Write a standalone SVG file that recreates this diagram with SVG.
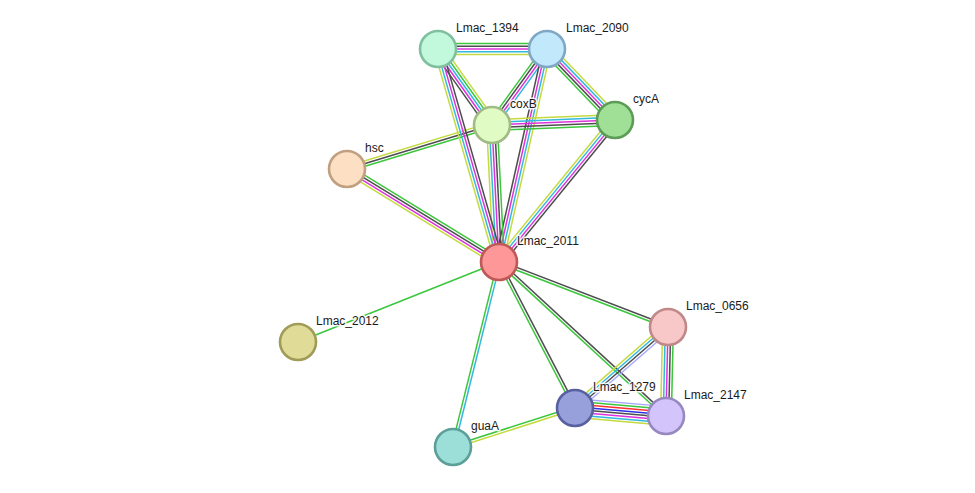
<svg xmlns="http://www.w3.org/2000/svg" width="975" height="493" viewBox="0 0 975 493">
<style>
line{stroke-width:1.34;fill:none}
.g{stroke:#3cc63c}.k{stroke:#4d4d4d}.m{stroke:#dc33dc}.c{stroke:#33b8e0}.y{stroke:#c5da3e}.l{stroke:#a8a8ff}.r{stroke:#ff3030}.b{stroke:#2e2ee8}
circle{stroke-width:2.6}
text{font-family:"Liberation Sans",Arial,sans-serif;font-size:12px;fill:#1a1a1a;stroke:#fff;stroke-width:3;stroke-opacity:0.85;paint-order:stroke;stroke-linejoin:round}
</style>
<rect width="975" height="493" fill="#fff"/>
<g id="connectors">
<g transform="translate(438,49) rotate(0) scale(1,1.12)"><line class="g" x1="0" y1="-4.8" x2="109" y2="-4.8"/><line class="k" x1="0" y1="-2.4" x2="109" y2="-2.4"/><line class="m" x1="0" y1="0" x2="109" y2="0"/><line class="c" x1="0" y1="2.4" x2="109" y2="2.4"/><line class="y" x1="0" y1="4.8" x2="109" y2="4.8"/></g>
<g transform="translate(438,49) rotate(54.6) scale(1,1.12)"><line class="y" x1="0" y1="-4.8" x2="93.2" y2="-4.8"/><line class="g" x1="0" y1="-2.4" x2="93.2" y2="-2.4"/><line class="c" x1="0" y1="0" x2="93.2" y2="0"/><line class="m" x1="0" y1="2.4" x2="93.2" y2="2.4"/><line class="k" x1="0" y1="4.8" x2="93.2" y2="4.8"/></g>
<g transform="translate(547,49) rotate(125.9) scale(1,1.12)"><line class="g" x1="0" y1="3.6" x2="93.8" y2="3.6"/><line class="k" x1="0" y1="1.2" x2="93.8" y2="1.2"/><line class="m" x1="0" y1="-1.2" x2="93.8" y2="-1.2"/><line class="c" x1="0" y1="-3.6" x2="93.8" y2="-3.6"/></g>
<g transform="translate(547,49) rotate(102.7) scale(1,1.12)"><line class="k" x1="0" y1="3.6" x2="218.3" y2="3.6"/><line class="m" x1="0" y1="1.2" x2="218.3" y2="1.2"/><line class="c" x1="0" y1="-1.2" x2="218.3" y2="-1.2"/><line class="y" x1="0" y1="-3.6" x2="218.3" y2="-3.6"/></g>
<g transform="translate(547,49) rotate(46.2) scale(1,1.12)"><line class="y" x1="0" y1="-4.8" x2="98.3" y2="-4.8"/><line class="c" x1="0" y1="-2.4" x2="98.3" y2="-2.4"/><line class="m" x1="0" y1="0" x2="98.3" y2="0"/><line class="k" x1="0" y1="2.4" x2="98.3" y2="2.4"/><line class="g" x1="0" y1="4.8" x2="98.3" y2="4.8"/></g>
<g transform="translate(492,125) rotate(-2.3) scale(1,1.12)"><line class="y" x1="0" y1="-4.8" x2="123.1" y2="-4.8"/><line class="c" x1="0" y1="-2.4" x2="123.1" y2="-2.4"/><line class="m" x1="0" y1="0" x2="123.1" y2="0"/><line class="k" x1="0" y1="2.4" x2="123.1" y2="2.4"/><line class="g" x1="0" y1="4.8" x2="123.1" y2="4.8"/></g>
<g transform="translate(347,169) rotate(-16.9) scale(1,1.12)"><line class="y" x1="0" y1="-2.4" x2="151.5" y2="-2.4"/><line class="k" x1="0" y1="0" x2="151.5" y2="0"/><line class="g" x1="0" y1="2.4" x2="151.5" y2="2.4"/></g>
<g transform="translate(492,125) rotate(87.1) scale(1,1.12)"><line class="y" x1="0" y1="4.8" x2="137.2" y2="4.8"/><line class="c" x1="0" y1="2.4" x2="137.2" y2="2.4"/><line class="m" x1="0" y1="0" x2="137.2" y2="0"/><line class="k" x1="0" y1="-2.4" x2="137.2" y2="-2.4"/><line class="g" x1="0" y1="-4.8" x2="137.2" y2="-4.8"/></g>
<g transform="translate(347,169) rotate(31.5) scale(1,1.12)"><line class="g" x1="0" y1="-3.6" x2="178.2" y2="-3.6"/><line class="k" x1="0" y1="-1.2" x2="178.2" y2="-1.2"/><line class="m" x1="0" y1="1.2" x2="178.2" y2="1.2"/><line class="y" x1="0" y1="3.6" x2="178.2" y2="3.6"/></g>
<g transform="translate(615,120) rotate(129.25) scale(1,1.12)"><line class="y" x1="0" y1="3.6" x2="183.4" y2="3.6"/><line class="c" x1="0" y1="1.2" x2="183.4" y2="1.2"/><line class="m" x1="0" y1="-1.2" x2="183.4" y2="-1.2"/><line class="k" x1="0" y1="-3.6" x2="183.4" y2="-3.6"/></g>
<g transform="translate(438,49) rotate(74.0) scale(1,1.12)"><line class="y" x1="0" y1="3.6" x2="221.6" y2="3.6"/><line class="c" x1="0" y1="1.2" x2="221.6" y2="1.2"/><line class="m" x1="0" y1="-1.2" x2="221.6" y2="-1.2"/><line class="k" x1="0" y1="-3.6" x2="221.6" y2="-3.6"/></g>
<line class="g" style="stroke-width:1.5" x1="499" y1="262" x2="298" y2="342"/>
<g transform="translate(499,262) rotate(103.96) scale(1,1.12)"><line class="g" x1="0" y1="1.2" x2="190.6" y2="1.2"/><line class="c" x1="0" y1="-1.2" x2="190.6" y2="-1.2"/></g>
<g transform="translate(453,447) rotate(-17.7) scale(1,1.12)"><line class="g" x1="0" y1="-1.2" x2="128.1" y2="-1.2"/><line class="y" x1="0" y1="1.2" x2="128.1" y2="1.2"/></g>
<g transform="translate(499,262) rotate(62.5) scale(1,1.12)"><line class="g" x1="0" y1="1.2" x2="164.6" y2="1.2"/><line class="k" x1="0" y1="-1.2" x2="164.6" y2="-1.2"/></g>
<g transform="translate(499,262) rotate(21.04) scale(1,1.12)"><line class="k" x1="0" y1="-1.2" x2="181.1" y2="-1.2"/><line class="g" x1="0" y1="1.2" x2="181.1" y2="1.2"/></g>
<g transform="translate(499,262) rotate(42.7) scale(1,1.12)"><line class="k" x1="0" y1="-1.2" x2="227.2" y2="-1.2"/><line class="g" x1="0" y1="1.2" x2="227.2" y2="1.2"/></g>
<g transform="translate(668,327) rotate(138.95) scale(1,1.12)"><line class="y" x1="0" y1="3.6" x2="123.3" y2="3.6"/><line class="c" x1="0" y1="1.2" x2="123.3" y2="1.2"/><line class="k" x1="0" y1="-1.2" x2="123.3" y2="-1.2"/><line class="l" x1="0" y1="-3.6" x2="123.3" y2="-3.6"/></g>
<g transform="translate(668,327) rotate(91.3) scale(1,1.12)"><line class="y" x1="0" y1="4.8" x2="89" y2="4.8"/><line class="c" x1="0" y1="2.4" x2="89" y2="2.4"/><line class="m" x1="0" y1="0" x2="89" y2="0"/><line class="k" x1="0" y1="-2.4" x2="89" y2="-2.4"/><line class="g" x1="0" y1="-4.8" x2="89" y2="-4.8"/></g>
<g transform="translate(575,408) rotate(5.02) scale(1,1.12)"><line class="l" x1="0" y1="-8.4" x2="91.4" y2="-8.4"/><line class="g" x1="0" y1="-6" x2="91.4" y2="-6"/><line class="r" x1="0" y1="-3.6" x2="91.4" y2="-3.6"/><line class="b" x1="0" y1="-1.2" x2="91.4" y2="-1.2"/><line class="k" x1="0" y1="1.2" x2="91.4" y2="1.2"/><line class="m" x1="0" y1="3.6" x2="91.4" y2="3.6"/><line class="c" x1="0" y1="6" x2="91.4" y2="6"/><line class="y" x1="0" y1="8.4" x2="91.4" y2="8.4"/></g>
</g>
<g id="Lmac_1394"><circle cx="438" cy="49" r="18" fill="#c2f8dc" stroke="#80c09e"/><text x="456" y="32">Lmac_1394</text></g>
<g id="Lmac_2090"><circle cx="547" cy="49" r="18" fill="#c2e8fc" stroke="#80a8c4"/><text x="566" y="32">Lmac_2090</text></g>
<g id="coxB"><circle cx="492" cy="125" r="18" fill="#e0fcc4" stroke="#a0bc84"/><text x="510" y="108">coxB</text></g>
<g id="cycA"><circle cx="615" cy="120" r="18" fill="#a0e096" stroke="#5c9c56"/><text x="633" y="103">cycA</text></g>
<g id="hsc"><circle cx="347" cy="169" r="18" fill="#fde0c4" stroke="#c0a080"/><text x="365" y="152">hsc</text></g>
<g id="Lmac_2011"><circle cx="499" cy="262" r="18" fill="#fe9898" stroke="#c05858"/><text x="517" y="245">Lmac_2011</text></g>
<g id="Lmac_0656"><circle cx="668" cy="327" r="18" fill="#f8c8c8" stroke="#c08888"/><text x="686" y="310">Lmac_0656</text></g>
<g id="Lmac_2012"><circle cx="298" cy="342" r="18" fill="#e0dc98" stroke="#a09c58"/><text x="316" y="325">Lmac_2012</text></g>
<g id="Lmac_1279"><circle cx="575" cy="408" r="18" fill="#98a0dc" stroke="#5860a0"/><text x="593" y="391">Lmac_1279</text></g>
<g id="Lmac_2147"><circle cx="666" cy="416" r="18" fill="#d4c4fc" stroke="#9888c0"/><text x="684" y="399">Lmac_2147</text></g>
<g id="guaA"><circle cx="453" cy="447" r="18" fill="#9cdfd8" stroke="#5c9f98"/><text x="471" y="430">guaA</text></g>
</svg>
